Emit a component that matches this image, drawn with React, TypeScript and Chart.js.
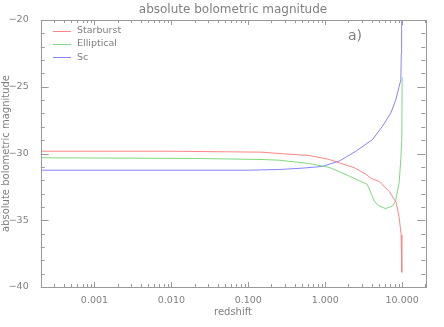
import React, { useEffect, useRef } from "react";
import { Chart, registerables } from "chart.js";

Chart.register(...registerables);

const chartTitle = "absolute bolometric magnitude";
const xTitle = "redshift";
const yTitle = "absolute bolometric magnitude";
const panelLabel = "a)";

const seriesNames = ["Starburst", "Elliptical", "Sc"];
const seriesColors = ["#ff8585", "#80d880", "#8585ff"];

const starburstZ = [0.0002, 0.009, 0.15, 0.25, 0.62, 1.13, 1.52, 2.4, 3.41, 3.96, 5.03, 6.78, 8.36, 9.14, 9.7, 9.9];
const starburstMag = [-29.83, -29.83, -29.9, -30.0, -30.15, -30.45, -30.7, -31.07, -31.57, -31.87, -32.09, -32.84, -33.66, -34.78, -36.1, -38.9];

const ellipticalZ = [0.0002, 0.02, 0.15, 0.25, 0.62, 1.13, 2.05, 3.51, 3.9, 4.33, 5.03, 6.1, 7.5, 8.2, 9.14, 9.6, 9.9, 10.0];
const ellipticalMag = [-30.32, -30.37, -30.45, -30.5, -30.75, -31.04, -31.69, -32.31, -32.9, -33.56, -33.93, -34.13, -33.93, -33.56, -32.2, -30.45, -28.96, -24.3];

const scZ = [0.0002, 0.1, 0.25, 0.5, 0.91, 1.52, 2.5, 4.11, 5.55, 7.13, 8.28, 9.14, 9.62, 9.75, 9.85];
const scMag = [-31.25, -31.25, -31.2, -31.1, -30.97, -30.57, -29.83, -28.96, -27.96, -26.96, -25.97, -24.98, -24.48, -22.5, -19.5];

const xMin = 0.0002;
const xMax = 20;
const yMin = -40;
const yMax = -20;
const yStep = 5;

const AXIS = "#9a9a9a";
const TEXT = "#808080";
const FONT = "DejaVu Sans";

function pts(xs: number[], ys: number[]) {
  return xs.map((x, i) => ({ x, y: ys[i] }));
}

const decorPlugin = {
  id: "decor",
  afterDraw(chart: any) {
    const { ctx, chartArea: a, scales } = chart;
    const xs = scales.x;
    const ys = scales.y;
    ctx.save();
    ctx.strokeStyle = AXIS;
    ctx.lineWidth = 1;
    ctx.strokeRect(Math.round(a.left) + 0.5, Math.round(a.top) + 0.5, Math.round(a.right - a.left), Math.round(a.bottom - a.top));
    ctx.beginPath();
    for (let d = -5; d <= 2; d++) {
      for (let m = 1; m <= 9; m++) {
        const v = m * Math.pow(10, d);
        if (v < xMin || v > xMax) continue;
        const px = Math.round(xs.getPixelForValue(v)) + 0.5;
        const len = m === 1 ? 5 : 3;
        ctx.moveTo(px, a.bottom);
        ctx.lineTo(px, a.bottom - len);
        ctx.moveTo(px, a.top);
        ctx.lineTo(px, a.top + len);
      }
    }
    for (let v = yMin; v <= yMax; v++) {
      const py = Math.round(ys.getPixelForValue(v)) + 0.5;
      const len = v % yStep === 0 ? 8 : 4;
      ctx.moveTo(a.left, py);
      ctx.lineTo(a.left + len, py);
      ctx.moveTo(a.right, py);
      ctx.lineTo(a.right - len, py);
    }
    ctx.stroke();

    ctx.fillStyle = TEXT;
    ctx.textAlign = "center";
    ctx.textBaseline = "middle";
    const cx = (a.left + a.right) / 2;
    const cy = (a.top + a.bottom) / 2;
    ctx.font = `12px ${FONT}`;
    ctx.fillText(chartTitle, cx, 10);
    ctx.font = `10px ${FONT}`;
    ctx.fillText(xTitle, cx, 312);
    ctx.save();
    ctx.translate(6, cy);
    ctx.rotate(-Math.PI / 2);
    ctx.fillText(yTitle, 0, 0);
    ctx.restore();

    ctx.font = `14px ${FONT}`;
    ctx.fillText(panelLabel, 355, 36);

    ctx.font = `9.5px ${FONT}`;
    ctx.textAlign = "left";
    chart.data.datasets.forEach((ds: any, i: number) => {
      const y = 30.5 + i * 13.3;
      ctx.strokeStyle = ds.borderColor;
      ctx.beginPath();
      ctx.moveTo(53, Math.round(y) + 0.5);
      ctx.lineTo(71, Math.round(y) + 0.5);
      ctx.stroke();
      ctx.fillStyle = TEXT;
      ctx.fillText(ds.label, 77, y);
    });
    ctx.restore();
  },
};

export default function App() {
  const ref = useRef<HTMLCanvasElement | null>(null);
  useEffect(() => {
    document.body.style.margin = "0";
    const canvas = ref.current!;
    const series = [pts(starburstZ, starburstMag), pts(ellipticalZ, ellipticalMag), pts(scZ, scMag)];
    const chart = new Chart(canvas, {
      type: "line",
      data: {
        datasets: series.map((d, i) => ({
          label: seriesNames[i],
          data: d,
          borderColor: seriesColors[i],
          backgroundColor: seriesColors[i],
          borderWidth: 1,
          pointRadius: 0,
          tension: 0,
          fill: false,
        })),
      },
      options: {
        responsive: false,
        animation: false,
        devicePixelRatio: 1,
        layout: { padding: { top: 20, right: 18.7, left: 0, bottom: 0 } },
        plugins: { legend: { display: false }, tooltip: { enabled: false }, title: { display: false } },
        scales: {
          x: {
            type: "logarithmic",
            min: xMin,
            max: xMax,
            grid: { display: false },
            border: { display: false },
            afterFit: (s: any) => {
              s.height = 40;
            },
            ticks: {
              autoSkip: false,
              maxRotation: 0,
              padding: 0,
              color: TEXT,
              font: { family: FONT, size: 9.5 },
              callback: (v: any) => {
                const l = Math.log10(Number(v));
                return Math.abs(l - Math.round(l)) < 1e-6 ? Number(v).toFixed(3) : "";
              },
            },
          },
          y: {
            type: "linear",
            min: yMin,
            max: yMax,
            grid: { display: false },
            border: { display: false },
            afterFit: (s: any) => {
              s.width = 40.7;
            },
            ticks: {
              stepSize: yStep,
              padding: 4,
              color: TEXT,
              font: { family: FONT, size: 9.5 },
              callback: (v: any) => String(v).replace("-", "\u2212"),
            },
          },
        },
      },
      plugins: [decorPlugin],
    });
    return () => chart.destroy();
  }, []);
  return <canvas ref={ref} width={444} height={327} style={{ display: "block" }} />;
}
